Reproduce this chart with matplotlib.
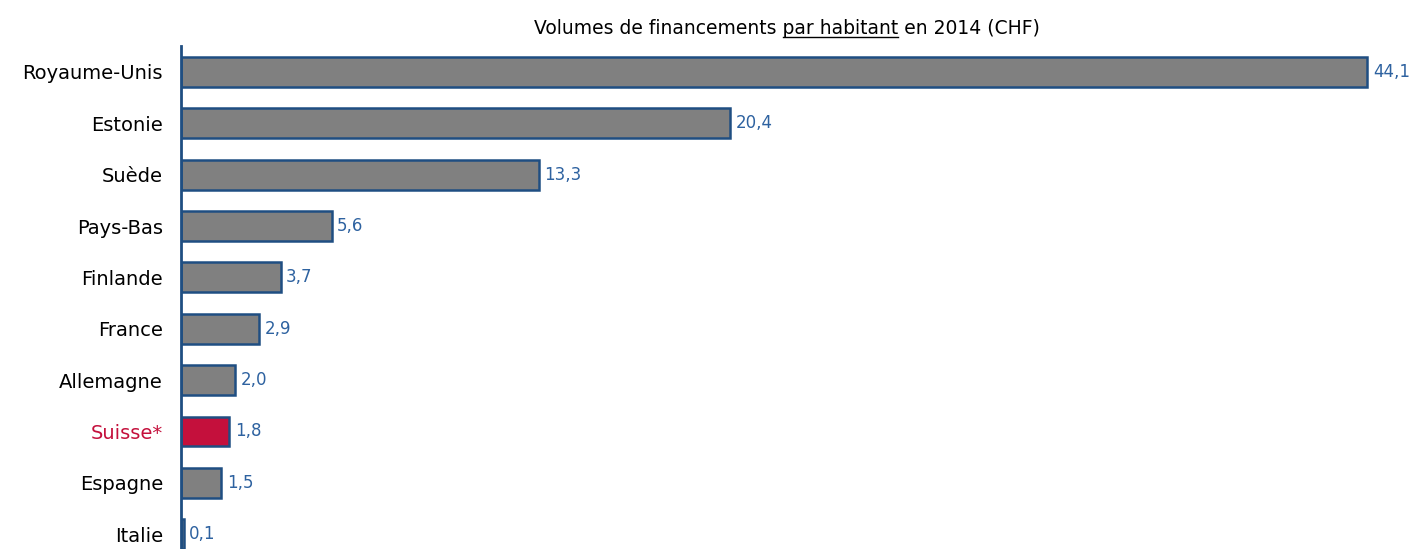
import matplotlib
matplotlib.use("Agg")
import matplotlib.pyplot as plt
from matplotlib.lines import Line2D

countries = ["Royaume-Unis", "Estonie", "Suède", "Pays-Bas", "Finlande",
             "France", "Allemagne", "Suisse*", "Espagne", "Italie"]
values = [44.1, 20.4, 13.3, 5.6, 3.7, 2.9, 2.0, 1.8, 1.5, 0.1]
highlight = "Suisse*"

gray = "#808080"
red = "#c4103c"
edge = "#1f4e82"
label_blue = "#2e62a0"

fig = plt.figure(figsize=(14.18, 5.49), dpi=100)
W, H = 1418, 549
ax = fig.add_axes([181 / W, 0, (1400 - 181) / W, (549 - 46.3) / H])

ypos = list(range(len(countries)))
colors = [red if c == highlight else gray for c in countries]
ax.barh(ypos, values, height=0.58, color=colors, edgecolor=edge, linewidth=1.8)

ax.set_xlim(0, (1400 - 181) / 26.9)
ax.set_ylim(9.29, -0.5)
ax.set_yticks(ypos)
ax.set_yticklabels(countries, fontsize=14)
for lbl in ax.get_yticklabels():
    if lbl.get_text() == highlight:
        lbl.set_color(red)
ax.tick_params(axis="y", length=0, pad=13)
ax.set_xticks([])
for s in ["top", "right", "bottom"]:
    ax.spines[s].set_visible(False)
ax.spines["left"].set_color(edge)
ax.spines["left"].set_linewidth(2)

for y, v in zip(ypos, values):
    ax.annotate(f"{v:.1f}".replace(".", ","), (v, y), xytext=(4, 0),
                textcoords="offset points", va="center", ha="left",
                fontsize=12, color=label_blue)

# title with underlined part
pre = "Volumes de financements "
mid = "par habitant"
post = " en 2014 (CHF)"
tfs = 13.5
full = fig.text(787 / W, 1 - 28 / H, pre + mid + post, ha="center", va="center", fontsize=tfs)
fig.canvas.draw()
r = fig.canvas.get_renderer()
bb = full.get_window_extent(r)
tp = fig.text(0, 0, pre, fontsize=tfs)
tm = fig.text(0, 0, pre + mid, fontsize=tfs)
x0 = bb.x0 + tp.get_window_extent(r).width
x1 = bb.x0 + tm.get_window_extent(r).width
tp.remove()
tm.remove()
yl = bb.y0 + 1
fig.add_artist(Line2D([x0 / W, x1 / W], [yl / H, yl / H], color="black",
                      linewidth=1, transform=fig.transFigure))

fig.savefig("out.png", dpi=100)
